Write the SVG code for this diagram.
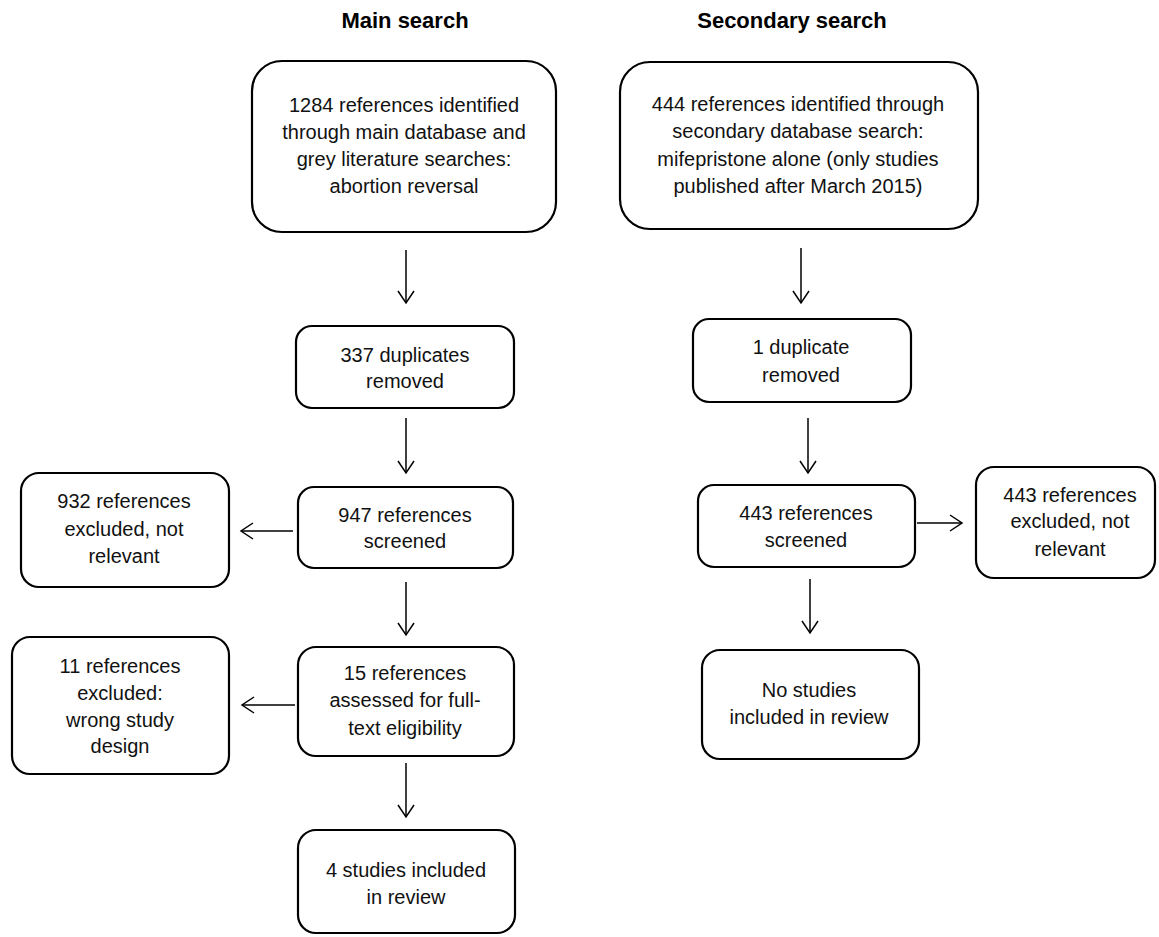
<svg xmlns="http://www.w3.org/2000/svg" width="1159" height="937" viewBox="0 0 1159 937">
<defs>
<style>
.box{fill:#fff;stroke:#000;stroke-width:2.2}
.t{font-family:"Liberation Sans",Arial,sans-serif;font-size:20px;fill:#111;text-anchor:middle}
.h{font-family:"Liberation Sans",Arial,sans-serif;font-size:22px;font-weight:bold;fill:#000;text-anchor:middle}
.c{stroke:#000;stroke-width:1.5;fill:none}
</style>
<marker id="ah" markerUnits="userSpaceOnUse" markerWidth="20" markerHeight="20" viewBox="-13 -10 16 20" refX="0" refY="0" orient="auto">
<polyline points="-12,-8 0,0 -12,8" fill="none" stroke="#000" stroke-width="1.5"/>
</marker>
</defs>
<rect width="1159" height="937" fill="#fff"/>
<text class="h" x="405" y="28">Main search</text>
<text class="h" x="792" y="28">Secondary search</text>

<g id="connectors">
<line class="c" x1="406" y1="250" x2="406" y2="303" marker-end="url(#ah)"/>
<line class="c" x1="406" y1="418" x2="406" y2="473" marker-end="url(#ah)"/>
<line class="c" x1="293" y1="531" x2="241" y2="531" marker-end="url(#ah)"/>
<line class="c" x1="406" y1="582" x2="406" y2="635" marker-end="url(#ah)"/>
<line class="c" x1="295" y1="705" x2="242" y2="705" marker-end="url(#ah)"/>
<line class="c" x1="406" y1="763" x2="406" y2="817" marker-end="url(#ah)"/>
<line class="c" x1="801" y1="248" x2="801" y2="303" marker-end="url(#ah)"/>
<line class="c" x1="808" y1="418" x2="808" y2="473" marker-end="url(#ah)"/>
<line class="c" x1="917" y1="523" x2="962" y2="523" marker-end="url(#ah)"/>
<line class="c" x1="810" y1="579" x2="810" y2="633" marker-end="url(#ah)"/>
</g>

<g id="main-identified">
<rect class="box" x="252" y="61" width="304" height="171" rx="30"/>
<text class="t" x="404" y="112">1284 references identified</text>
<text class="t" x="404" y="139">through main database and</text>
<text class="t" x="404" y="166">grey literature searches:</text>
<text class="t" x="404" y="193">abortion reversal</text>
</g>
<g id="main-duplicates">
<rect class="box" x="296" y="326" width="218" height="82" rx="16"/>
<text class="t" x="405" y="362">337 duplicates</text>
<text class="t" x="405" y="388">removed</text>
</g>
<g id="main-screened">
<rect class="box" x="298" y="487" width="215" height="81" rx="16"/>
<text class="t" x="405" y="522">947 references</text>
<text class="t" x="405" y="548">screened</text>
</g>
<g id="main-excluded">
<rect class="box" x="21" y="473" width="208" height="114" rx="18"/>
<text class="t" x="124" y="508">932 references</text>
<text class="t" x="124" y="536">excluded, not</text>
<text class="t" x="124" y="563">relevant</text>
</g>
<g id="main-assessed">
<rect class="box" x="298" y="647" width="216" height="109" rx="18"/>
<text class="t" x="405" y="680">15 references</text>
<text class="t" x="405" y="707">assessed for full-</text>
<text class="t" x="405" y="735">text eligibility</text>
</g>
<g id="main-excluded-design">
<rect class="box" x="12" y="637" width="217" height="137" rx="18"/>
<text class="t" x="120" y="673">11 references</text>
<text class="t" x="120" y="700">excluded:</text>
<text class="t" x="120" y="727">wrong study</text>
<text class="t" x="120" y="753">design</text>
</g>
<g id="main-included">
<rect class="box" x="298" y="830" width="217" height="103" rx="18"/>
<text class="t" x="406" y="877">4 studies included</text>
<text class="t" x="406" y="904">in review</text>
</g>

<g id="sec-identified">
<rect class="box" x="620" y="62" width="358" height="167" rx="30"/>
<text class="t" x="798" y="111">444 references identified through</text>
<text class="t" x="798" y="138">secondary database search:</text>
<text class="t" x="798" y="166">mifepristone alone (only studies</text>
<text class="t" x="798" y="193">published after March 2015)</text>
</g>
<g id="sec-duplicates">
<rect class="box" x="693" y="319" width="218" height="83" rx="16"/>
<text class="t" x="801" y="354">1 duplicate</text>
<text class="t" x="801" y="382">removed</text>
</g>
<g id="sec-screened">
<rect class="box" x="698" y="485" width="217" height="82" rx="16"/>
<text class="t" x="806" y="520">443 references</text>
<text class="t" x="806" y="547">screened</text>
</g>
<g id="sec-excluded">
<rect class="box" x="976" y="467" width="179" height="111" rx="18"/>
<text class="t" x="1070" y="502">443 references</text>
<text class="t" x="1070" y="528">excluded, not</text>
<text class="t" x="1070" y="556">relevant</text>
</g>
<g id="sec-included">
<rect class="box" x="702" y="650" width="217" height="109" rx="18"/>
<text class="t" x="809" y="697">No studies</text>
<text class="t" x="809" y="724">included in review</text>
</g>
</svg>
